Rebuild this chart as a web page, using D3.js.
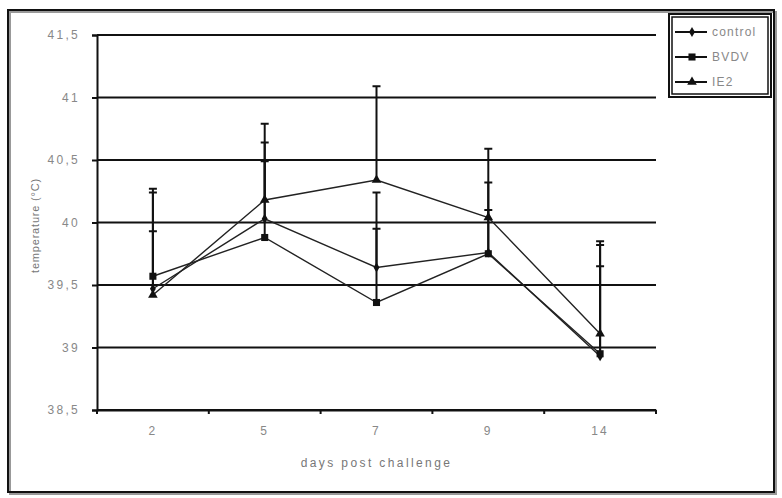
<!DOCTYPE html>
<html>
<head>
<meta charset="utf-8">
<script src="https://cdn.jsdelivr.net/npm/d3@7"></script>
<style>
  body { margin: 0; background: #fff; }
  text { font-family: "Liberation Sans", Arial, sans-serif; }
</style>
</head>
<body>
<svg width="782" height="498"></svg>
<script>
const days = ["2", "5", "7", "9", "14"];
const yTicks = [38.5, 39, 39.5, 40, 40.5, 41, 41.5];

const control = [39.47, 40.03, 39.64, 39.76, 38.93];
const bvdv    = [39.57, 39.88, 39.36, 39.75, 38.95];
const ie2     = [39.42, 40.18, 40.34, 40.04, 39.11];

const controlErr = [0.77, 0.61, 0.60, 0.56, 0.89];
const bvdvErr    = [0.70, 0.61, 0.59, 0.35, 0.70];
const ie2Err     = [0.51, 0.61, 0.75, 0.55, 0.74];

const series = [
  {name: "control", values: control, err: controlErr, marker: "diamond"},
  {name: "BVDV", values: bvdv, err: bvdvErr, marker: "square"},
  {name: "IE2", values: ie2, err: ie2Err, marker: "triangle"}
];

const svg = d3.select("svg");
const plotL = 97, plotR = 656, plotT = 35, plotB = 410;

// chart frame
svg.append("rect").attr("x", 10).attr("y", 12).attr("width", 766).attr("height", 482)
  .attr("fill", "none").attr("stroke", "#999").attr("stroke-width", 2);
svg.append("rect").attr("x", 8).attr("y", 10).attr("width", 766).attr("height", 482)
  .attr("fill", "none").attr("stroke", "#111").attr("stroke-width", 2);

const x = d3.scaleBand().domain(days).range([plotL, plotR]);
const y = d3.scaleLinear().domain([38.5, 41.5]).range([plotB, plotT]);

// gridlines
svg.append("g").selectAll("line").data(yTicks).enter().append("line")
  .attr("x1", plotL).attr("x2", plotR)
  .attr("y1", d => y(d)).attr("y2", d => y(d))
  .attr("stroke", "#111").attr("stroke-width", 2);

const fmt = d => String(d).replace(".", ",");

const yAxis = svg.append("g").attr("transform", `translate(${plotL},0)`)
  .call(d3.axisLeft(y).tickValues(yTicks).tickFormat(fmt).tickSize(5).tickPadding(12));
yAxis.select(".domain").attr("stroke", "#111").attr("stroke-width", 2);
yAxis.selectAll(".tick line").attr("stroke", "#111").attr("stroke-width", 2);
yAxis.selectAll("text").attr("font-size", 12).attr("fill", "#888")
  .attr("letter-spacing", 2.3);

const xAxis = svg.append("g").attr("transform", `translate(0,${plotB})`)
  .call(d3.axisBottom(x).tickSize(0).tickPadding(16));
xAxis.select(".domain").attr("stroke", "#111").attr("stroke-width", 2);
xAxis.selectAll("text").attr("font-size", 12).attr("fill", "#888")
  .attr("letter-spacing", 2.3);

// x tick marks at band boundaries
const bounds = days.map(d => x(d)).concat([plotR]);
svg.append("g").selectAll("line").data(bounds).enter().append("line")
  .attr("x1", d => d).attr("x2", d => d)
  .attr("y1", plotB).attr("y2", plotB + 4)
  .attr("stroke", "#111").attr("stroke-width", 2);

const cx = d => x(d) + x.bandwidth() / 2;

// axis titles
svg.append("text").attr("x", (plotL + plotR) / 2).attr("y", 467)
  .attr("text-anchor", "middle").attr("font-size", 12).attr("fill", "#777")
  .attr("letter-spacing", 2.4)
  .text("days post challenge");
svg.append("text").attr("transform", `translate(39,${(plotT + plotB) / 2 + 3}) rotate(-90)`)
  .attr("text-anchor", "middle").attr("font-size", 11).attr("fill", "#777")
  .attr("letter-spacing", 0.8)
  .text("temperature (°C)");

// error bars (plus only)
series.forEach(s => {
  const g = svg.append("g");
  days.forEach((d, i) => {
    const x0 = cx(d), y0 = y(s.values[i]), y1 = y(s.values[i] + s.err[i]);
    g.append("line").attr("x1", x0).attr("x2", x0).attr("y1", y0).attr("y2", y1)
      .attr("stroke", "#111").attr("stroke-width", 2);
    g.append("line").attr("x1", x0 - 4).attr("x2", x0 + 4).attr("y1", y1).attr("y2", y1)
      .attr("stroke", "#111").attr("stroke-width", 2);
  });
});

const line = d3.line().x((v, i) => cx(days[i])).y(v => y(v));

const symbols = {
  diamond: d3.symbol().type(d3.symbolDiamond).size(30),
  square: d3.symbol().type(d3.symbolSquare).size(50),
  triangle: d3.symbol().type(d3.symbolTriangle).size(40)
};

series.forEach(s => {
  svg.append("path").datum(s.values).attr("d", line)
    .attr("fill", "none").attr("stroke", "#222").attr("stroke-width", 1.4);
  svg.append("g").selectAll("path").data(s.values).enter().append("path")
    .attr("transform", (v, i) => `translate(${cx(days[i])},${y(v)})`)
    .attr("d", symbols[s.marker]()).attr("fill", "#111");
});

// legend
const lg = svg.append("g");
lg.append("rect").attr("x", 669).attr("y", 14).attr("width", 102).attr("height", 83)
  .attr("fill", "#fff").attr("stroke", "#111").attr("stroke-width", 2);
lg.append("rect").attr("x", 672).attr("y", 17).attr("width", 96).attr("height", 77)
  .attr("fill", "none").attr("stroke", "#111").attr("stroke-width", 1.5);
series.forEach((s, i) => {
  const ly = 32 + i * 25;
  lg.append("line").attr("x1", 675).attr("x2", 707).attr("y1", ly).attr("y2", ly)
    .attr("stroke", "#111").attr("stroke-width", 2);
  lg.append("path").attr("transform", `translate(692,${ly})`)
    .attr("d", symbols[s.marker]()).attr("fill", "#111");
  lg.append("text").attr("x", 712).attr("y", ly + 4).attr("font-size", 12)
    .attr("fill", "#888").attr("letter-spacing", 1.2).text(s.name);
});
</script>
</body>
</html>
